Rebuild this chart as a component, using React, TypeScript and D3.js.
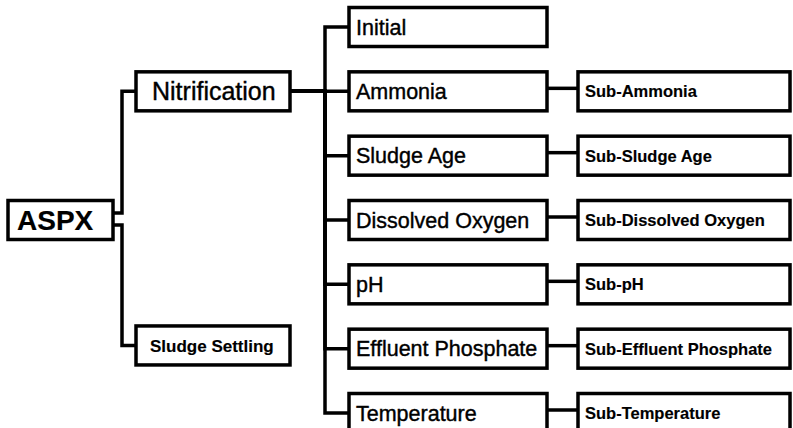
import { useEffect, useRef } from "react";
import * as d3 from "d3";

const W = 793, H = 428;

// tree content
const ROOT_LABEL = "ASPX";
const BRANCHES = ["Nitrification", "Sludge Settling"];
const PARAMETERS = ["Initial", "Ammonia", "Sludge Age", "Dissolved Oxygen", "pH", "Effluent Phosphate", "Temperature"];
const SUB_PARAMETERS = ["", "Sub-Ammonia", "Sub-Sludge Age", "Sub-Dissolved Oxygen", "Sub-pH", "Sub-Effluent Phosphate", "Sub-Temperature"];

type TNode = { name: string; children?: TNode[] };

const TREE: TNode = {
  name: ROOT_LABEL,
  children: [
    {
      name: BRANCHES[0],
      children: PARAMETERS.map((p, i) => ({
        name: p,
        children: SUB_PARAMETERS[i] ? [{ name: SUB_PARAMETERS[i] }] : undefined,
      })),
    },
    { name: BRANCHES[1] },
  ],
};

const FONT = "'Liberation Sans', Arial, Helvetica, sans-serif";
const SW = 3.5;

// column extents by depth [left, right]
const COLS = [[8, 113], [136, 290], [349, 547], [578, 790]];
const TRUNK = [122, 325];
const BOX_H = 39;

export default function App() {
  const svgRef = useRef<SVGSVGElement>(null);

  useEffect(() => {
    const svg = d3.select(svgRef.current);
    svg.selectAll("*").remove();

    const root = d3.hierarchy<TNode>(TREE);
    const params = root.children![0].children!;

    // vertical rows follow the parameter list
    const row = d3.scaleLinear().domain([0, PARAMETERS.length - 1]).range([27, 413]);

    const cy = new Map<d3.HierarchyNode<TNode>, number>();
    params.forEach((p, i) => {
      cy.set(p, row(i));
      p.children?.forEach(c => cy.set(c, row(i)));
    });
    cy.set(root, row(3));
    cy.set(root.children![0], row(1));
    cy.set(root.children![1], row(4.95));

    const nodes = root.descendants();

    const style = (d: d3.HierarchyNode<TNode>) => {
      if (d.depth === 0) return { size: 28, weight: 700, pad: 9 };
      if (d.depth === 1) return d.children ? { size: 25, weight: 400, pad: 16 } : { size: 17, weight: 700, pad: 14 };
      if (d.depth === 2) return { size: 21.5, weight: 400, pad: 7 };
      return { size: 16.5, weight: 700, pad: 7 };
    };

    // ── links ──
    const links = root.links();
    svg.append("g")
      .selectAll("path")
      .data(links)
      .join("path")
      .attr("fill", "none")
      .attr("stroke", "#000")
      .attr("stroke-width", SW)
      .attr("d", l => {
        const s = l.source, t = l.target;
        const sx = COLS[s.depth][1], tx = COLS[t.depth][0];
        const sY = cy.get(s)!, tY = cy.get(t)!;
        const p = d3.path();
        if (s.depth === 0) {
          const y0 = tY < sY ? sY - 7 : sY + 5;
          p.moveTo(sx, y0); p.lineTo(TRUNK[0], y0); p.lineTo(TRUNK[0], tY); p.lineTo(tx, tY);
        } else if (s.depth === 1) {
          p.moveTo(sx, sY); p.lineTo(TRUNK[1], sY); p.lineTo(TRUNK[1], tY); p.lineTo(tx, tY);
        } else {
          p.moveTo(sx, sY - 3); p.lineTo(tx, tY - 3);
        }
        return p.toString();
      });

    // ── boxes ──
    const g = svg.append("g")
      .selectAll("g")
      .data(nodes)
      .join("g");

    g.append("rect")
      .attr("x", d => COLS[d.depth][0])
      .attr("y", d => cy.get(d)! - BOX_H / 2)
      .attr("width", d => COLS[d.depth][1] - COLS[d.depth][0])
      .attr("height", BOX_H)
      .attr("fill", "#fff")
      .attr("stroke", "#000")
      .attr("stroke-width", SW);

    // scanned print looks a touch heavier than the plain font
    g.append("text")
      .attr("x", d => COLS[d.depth][0] + style(d).pad)
      .attr("y", d => cy.get(d)! + style(d).size * 0.36)
      .attr("font-family", FONT)
      .attr("font-size", d => style(d).size)
      .attr("font-weight", d => style(d).weight)
      .attr("fill", "#000")
      .attr("stroke", "#000")
      .attr("stroke-width", d => (style(d).weight === 400 ? 0.4 : 0.15))
      .text(d => d.data.name);
  }, []);

  return (
    <div style={{ position: "absolute", left: 0, top: 0, width: W, height: H, background: "#fff" }}>
      <svg ref={svgRef} width={W} height={H} style={{ display: "block" }} />
    </div>
  );
}
